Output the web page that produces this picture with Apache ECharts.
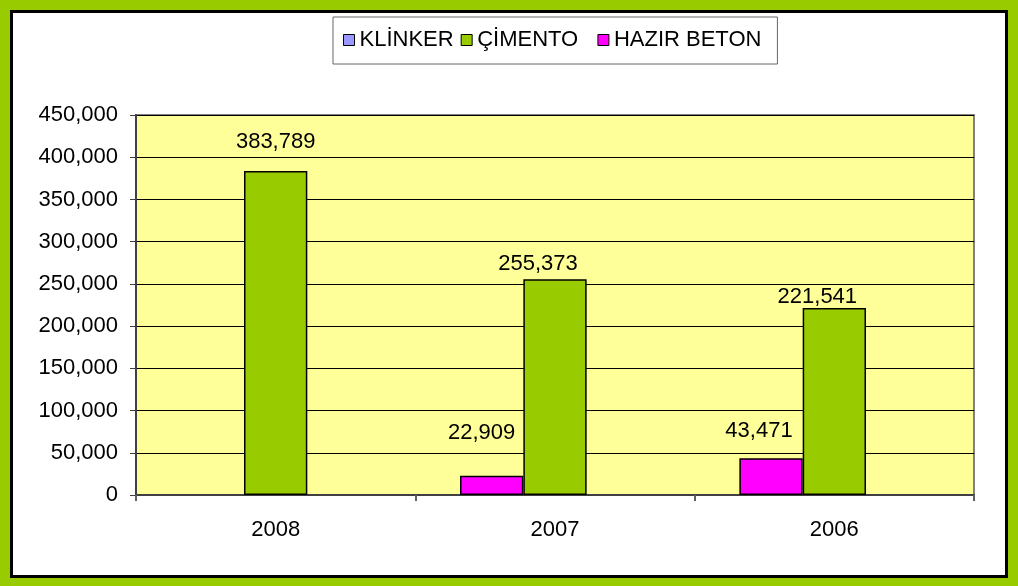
<!DOCTYPE html>
<html><head><meta charset="utf-8">
<script src="https://cdn.jsdelivr.net/npm/echarts@6/dist/echarts.min.js"></script>
<style>
html,body{margin:0;padding:0;}
#bg{position:absolute;left:0;top:0;width:1018px;height:586px;background:#99cc00;}
#inner{position:absolute;left:10px;top:10px;width:998px;height:568px;background:#fff;border:3px solid #000;box-sizing:border-box;}
#chart{position:absolute;left:0;top:0;width:1018px;height:586px;}
</style></head>
<body>
<div id="bg"></div><div id="inner"></div><div id="chart"></div>
<script>
const categories = ['2008', '2007', '2006'];
const klinker = [null, null, null];
const cimento = [383789, 255373, 221541];
const hazirBeton = [null, 22909, 43471];
const yTicks = [0, 50000, 100000, 150000, 200000, 250000, 300000, 350000, 400000, 450000];

// label nudges (layout only)
const cimentoLabelOffsets = [[0, -13], [-17, 1], [-17, 5]];
const hazirLabelOffsets = [[0, 0], [-10, -27], [-12, -11]];

const fmt = v => v.toLocaleString('en-US');
const FONT = 'Liberation Sans, Arial, sans-serif';
const FS = 22;

function withOffsets(vals, offs) {
  return vals.map((v, i) => ({ value: v, label: { offset: offs[i] } }));
}

const chart = echarts.init(document.getElementById('chart'), null, { renderer: 'canvas' });
chart.setOption({
  backgroundColor: 'transparent',
  animation: false,
  legend: {
    data: ['KLİNKER', 'ÇİMENTO', 'HAZIR BETON'],
    formatter: name => name === 'ÇİMENTO' ? name + '  ' : name,
    left: 333, top: 17,
    padding: [12, 16, 13, 10],
    itemWidth: 11, itemHeight: 11, itemGap: 7,
    icon: 'rect',
    borderColor: '#666', borderWidth: 1,
    backgroundColor: '#fff',
    textStyle: { fontFamily: FONT, fontSize: FS, color: '#000' },
    itemStyle: { borderColor: '#000', borderWidth: 1 }
  },
  grid: {
    left: 136, right: 44, top: 115, bottom: 91,
    show: true, backgroundColor: '#ffff99', borderColor: '#808080', borderWidth: 2
  },
  xAxis: {
    type: 'category', data: categories,
    axisLine: { lineStyle: { color: '#404040', width: 2 } },
    axisTick: { show: true, length: 6, lineStyle: { color: '#606060', width: 2 } },
    axisLabel: { fontFamily: FONT, fontSize: FS, color: '#000', margin: 24 }
  },
  yAxis: {
    type: 'value', min: 0, max: 450000, interval: 50000,
    axisLine: { show: true, lineStyle: { color: '#404040', width: 2 } },
    axisTick: { show: true, length: 6, lineStyle: { color: '#404040', width: 1 } },
    axisLabel: { fontFamily: FONT, fontSize: FS, color: '#000', margin: 18,
      formatter: v => fmt(v) },
    splitLine: { lineStyle: { color: '#000', width: 1 } }
  },
  series: [
    {
      name: 'HAZIR BETON', type: 'bar', barGap: '0%', barCategoryGap: '32%',
      data: withOffsets(hazirBeton, hazirLabelOffsets),
      itemStyle: { color: '#ff00ff', borderColor: '#000', borderWidth: 1.5 },
      label: { show: true, position: 'top', distance: 5, fontFamily: FONT, fontSize: FS, color: '#000',
        formatter: p => p.value == null ? '' : fmt(p.value) }
    },
    {
      name: 'ÇİMENTO', type: 'bar', barGap: '0%', barCategoryGap: '32%',
      data: withOffsets(cimento, cimentoLabelOffsets),
      itemStyle: { color: '#99cc00', borderColor: '#000', borderWidth: 1.5 },
      label: { show: true, position: 'top', distance: 5, fontFamily: FONT, fontSize: FS, color: '#000',
        formatter: p => p.value == null ? '' : fmt(p.value) }
    },
    {
      name: 'KLİNKER', type: 'bar', barGap: '0%', barCategoryGap: '32%',
      data: klinker,
      itemStyle: { color: '#9999ff', borderColor: '#000', borderWidth: 1.5 }
    }
  ]
});
</script>
</body></html>
